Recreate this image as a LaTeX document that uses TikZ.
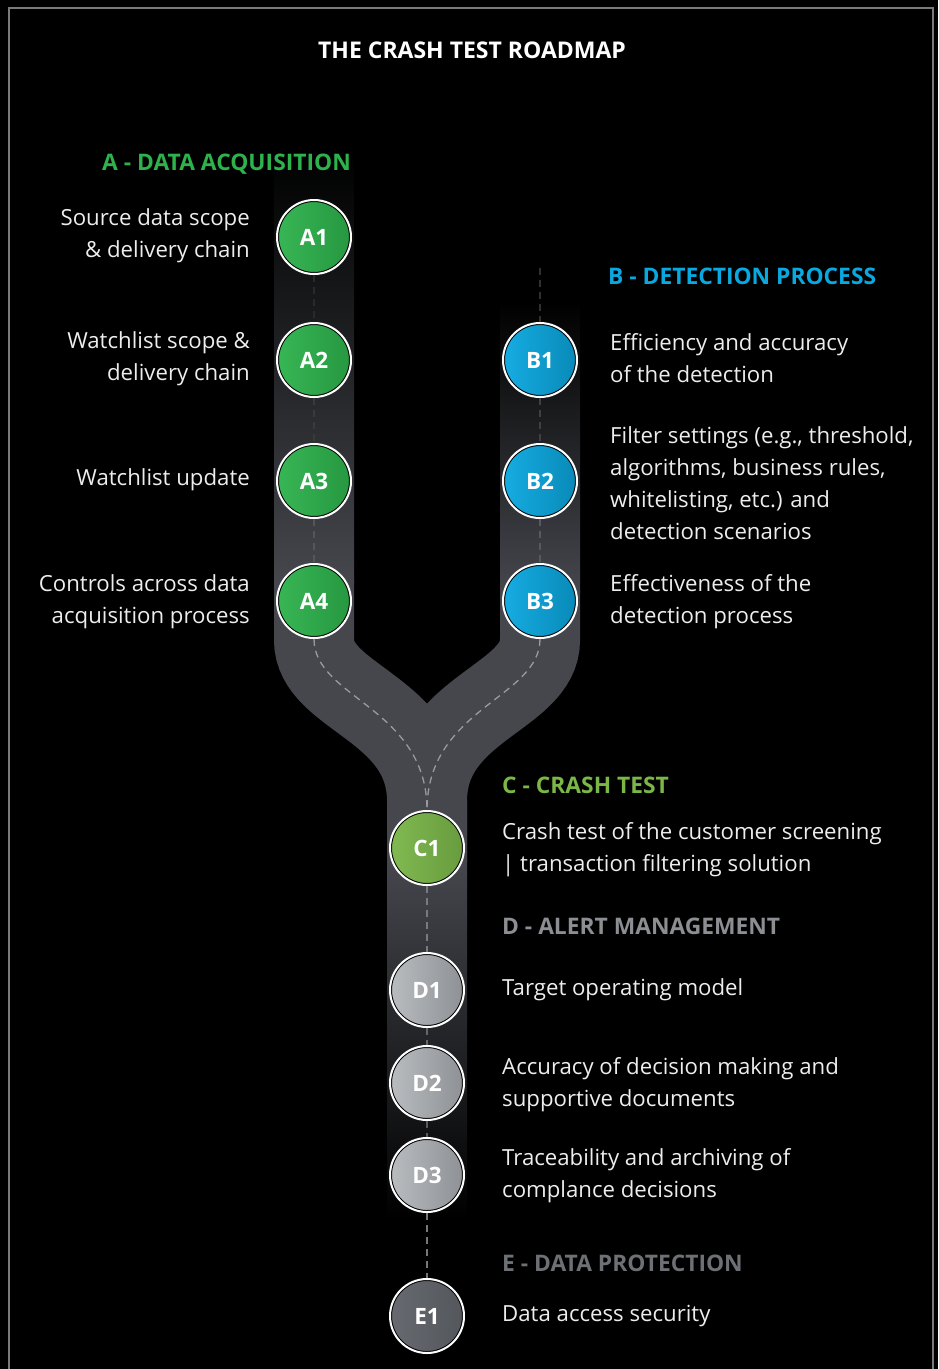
\documentclass[tikz,border=0pt]{standalone}
\usepackage{fontspec}
\setmainfont{Open Sans}
\usetikzlibrary{calc}

\definecolor{road}{HTML}{45474D}
\definecolor{framegrey}{HTML}{7A7A7A}
\definecolor{bodytext}{HTML}{EDEDED}
\definecolor{hdrA}{HTML}{2DB24C}
\definecolor{hdrB}{HTML}{0AA8E0}
\definecolor{hdrC}{HTML}{7AB648}
\definecolor{hdrD}{HTML}{8B8E92}
\definecolor{hdrE}{HTML}{6D7075}
\definecolor{dLight}{HTML}{BABDC0}
\definecolor{dDark}{HTML}{8D9094}
\definecolor{eLight}{HTML}{676A70}
\definecolor{eDark}{HTML}{53565B}
\definecolor{dashA}{HTML}{2A2A2C}
\definecolor{dashB}{HTML}{3A3A3D}
\definecolor{dashC}{HTML}{55565A}
\definecolor{dashD}{HTML}{303032}
\definecolor{dashE}{HTML}{404043}
\definecolor{dashF}{HTML}{58595D}
\definecolor{dashG}{HTML}{9A9A9E}
\definecolor{dashH}{HTML}{7A7A7E}
\definecolor{dashI}{HTML}{66666A}
\definecolor{dashJ}{HTML}{5A5A5E}
\definecolor{dashK}{HTML}{77777A}

\tikzset{
  stepcircle/.style 2 args={circle, minimum size=74pt, inner sep=0pt,
    draw=white, line width=2pt, left color=#1, right color=#2,
    text=white, font=\bfseries\fontsize{22.5}{26}\selectfont,
    path picture={\draw[black, line width=1.2pt]
      (path picture bounding box.center) circle (35.6pt);}},
  bodytxt/.style={text=bodytext, inner sep=0pt,
    font=\fontsize{22.2}{32}\selectfont},
  lefttxt/.style={bodytxt, anchor=east, align=right},
  righttxt/.style={bodytxt, anchor=west, align=left},
  header/.style={inner sep=0pt, font=\bfseries\fontsize{22.8}{26}\selectfont},
  dashline/.style={line width=1.3pt, dash pattern=on 7pt off 5pt},
  roadstroke/.style={draw=road, line width=80pt}
}

\begin{document}
\begin{tikzpicture}[x=1pt, y=-1pt]
  % canvas and frame
  \fill[black] (0,0) rectangle (938,1369);
  \useasboundingbox (0,0) rectangle (938,1369);
  \draw[framegrey, line width=1.5pt] (9,1369) -- (9,8) -- (933,8) -- (933,1369);

  % title
  \node[header, text=white, font=\bfseries\fontsize{23}{26}\selectfont] (title) at (472,50) {THE CRASH TEST ROADMAP};

  % roads: left and right lanes fading in from the top, centre lane fading out
  \shade[top color=black, bottom color=road] (274,150) rectangle (354,582);
  \shade[top color=black, bottom color=road] (500,300) rectangle (580,592);
  \draw[roadstroke] (314,580) -- (314,640) .. controls (314,698) and (427,708) .. (427,801) -- (427,862);
  \draw[roadstroke] (540,590) -- (540,640) .. controls (540,698) and (427,708) .. (427,801) -- (427,862);
  \shade[top color=road, bottom color=black] (387,860) rectangle (467,1220);

  % step circles
  \node[stepcircle={hdrA!95!white}{hdrA!85!black}] (A1) at (314,237) {A1};
  \node[stepcircle={hdrA!95!white}{hdrA!85!black}] (A2) at (314,360) {A2};
  \node[stepcircle={hdrA!95!white}{hdrA!85!black}] (A3) at (314,481) {A3};
  \node[stepcircle={hdrA!95!white}{hdrA!85!black}] (A4) at (314,601) {A4};
  \node[stepcircle={hdrB!95!white}{hdrB!82!black}] (B1) at (540,360) {B1};
  \node[stepcircle={hdrB!95!white}{hdrB!82!black}] (B2) at (540,481) {B2};
  \node[stepcircle={hdrB!95!white}{hdrB!82!black}] (B3) at (540,601) {B3};
  \node[stepcircle={hdrC!95!white}{hdrC!85!black}] (C1) at (427,848) {C1};
  \node[stepcircle={dLight}{dDark}] (D1) at (427,990) {D1};
  \node[stepcircle={dLight}{dDark}] (D2) at (427,1083) {D2};
  \node[stepcircle={dLight}{dDark}] (D3) at (427,1175) {D3};
  \node[stepcircle={eLight}{eDark}] (E1) at (427,1316) {E1};

  % lane markings
  \coordinate (Btop) at (540,268);
  \draw[dashline, color=dashA] (A1) -- (A2);
  \draw[dashline, color=dashB] (A2) -- (A3);
  \draw[dashline, color=dashC] (A3) -- (A4);
  \draw[dashline, color=dashD] (Btop) -- (B1);
  \draw[dashline, color=dashE] (B1) -- (B2);
  \draw[dashline, color=dashF] (B2) -- (B3);
  \draw[dashline, color=dashG] (A4) .. controls (314,698) and (427,708) .. (C1);
  \draw[dashline, color=dashG] (B3) .. controls (540,698) and (427,708) .. (C1);
  \draw[dashline, color=dashH] (C1) -- (D1);
  \draw[dashline, color=dashI] (D1) -- (D2);
  \draw[dashline, color=dashJ] (D2) -- (D3);
  \draw[dashline, color=dashK] (D3) -- (E1);

  % section headers
  \node[header, text=hdrA, anchor=east] (hA) at (351,164) {A - DATA ACQUISITION};
  \node[header, text=hdrB, anchor=west] (hB) at (608,276) {B - DETECTION PROCESS};
  \node[header, text=hdrC, anchor=west] (hC) at (502,785) {C - CRASH TEST};
  \node[header, text=hdrD, anchor=west] (hD) at (502,926) {D - ALERT MANAGEMENT};
  \node[header, text=hdrE, anchor=west] (hE) at (502,1263) {E - DATA PROTECTION};

  % descriptions
  \node[lefttxt] (tA1) at (250,236) {Source data scope\\\& delivery chain};
  \node[lefttxt] (tA2) at (250,359) {Watchlist scope \&\\delivery chain};
  \node[lefttxt] (tA3) at (250,480) {Watchlist update};
  \node[lefttxt] (tA4) at (250,602) {Controls across data\\acquisition process};
  \node[righttxt] (tB1) at (610,358) {Efficiency and accuracy\\of the detection};
  \node[righttxt] (tB2) at (610,483) {Filter settings (e.g., threshold,\\algorithms, business rules,\\whitelisting, etc.) and\\detection scenarios};
  \node[righttxt] (tB3) at (610,602) {Effectiveness of the\\detection process};
  \node[righttxt] (tC1) at (502,850) {Crash test of the customer screening\\| transaction filtering solution};
  \node[righttxt] (tD1) at (502,990) {Target operating model};
  \node[righttxt] (tD2) at (502,1085) {Accuracy of decision making and\\supportive documents};
  \node[righttxt] (tD3) at (502,1176) {Traceability and archiving of\\complance decisions};
  \node[righttxt] (tE1) at (502,1316) {Data access security};
\end{tikzpicture}
\end{document}
